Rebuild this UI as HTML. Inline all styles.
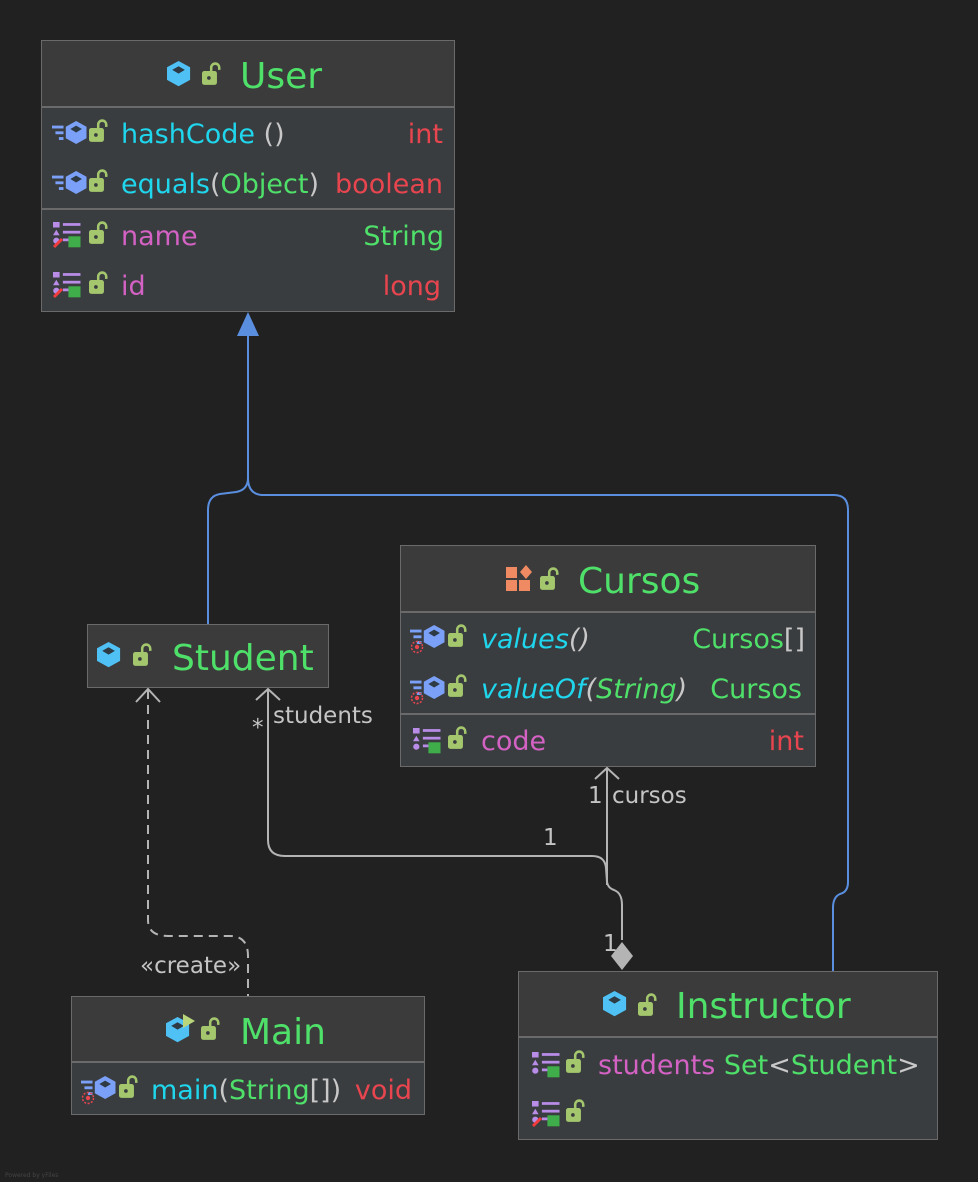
<!DOCTYPE html>
<html><head><meta charset="utf-8"><style>
html,body{margin:0;padding:0;background:#212121;}
svg{display:block}
text{font-family:"DejaVu Sans","Liberation Sans",sans-serif;}
.t{font-size:36px;fill:#4fe06a}
.r{font-size:27px}
.g{fill:#4fe06a}.c{fill:#1fd6ec}.p{fill:#d462c4}.red{fill:#e8454f}.w{fill:#c8c8c8}
.l{font-size:23px;fill:#c4c4c4}
</style></head><body>
<svg width="978" height="1182" viewBox="0 0 978 1182" xmlns="http://www.w3.org/2000/svg">
<defs>
<g id="cube0"><polygon points="11,0 22,6 22,18 11,24 0,18 0,6" fill="#4fc1f5"/><polygon points="11,5 17,8.5 11,12 5,8.5" fill="#2e3a44"/></g>
<g id="cube"><use href="#cube0" transform="scale(1.05)"/></g>
<g id="lock0"><rect x="0" y="7" width="13" height="12" rx="2" fill="#a4c76e"/><path d="M8 8 V4 a3.5 3.5 0 0 1 7 0 V6" stroke="#a4c76e" stroke-width="2.2" fill="none"/><circle cx="6" cy="13" r="1.6" fill="#3a3d40"/></g>
<g id="lock"><use href="#lock0" transform="translate(-1,-2) scale(1.15)"/></g>
<g id="meth0"><rect x="0" y="4" width="10" height="2.5" fill="#7aa0f7"/><rect x="3" y="9" width="7" height="2.5" fill="#7aa0f7"/><rect x="6" y="14" width="4" height="2.5" fill="#7aa0f7"/><polygon points="21,0 30,5 30,15 21,20 12,15 12,5" fill="#7aa0f7"/><polygon points="21,4 26,7 21,10 16,7" fill="#2e3a44"/></g>
<g id="meth"><use href="#meth0" transform="translate(0,-2) scale(1.15)"/></g>
<g id="smeth"><use href="#meth"/><circle cx="7" cy="20" r="5.5" fill="none" stroke="#e8454f" stroke-width="1.5" stroke-dasharray="2 1.5"/><circle cx="7" cy="20" r="2.2" fill="#e8454f"/></g>
<g id="fld0"><rect x="0" y="0" width="6" height="5" fill="#b98ce8"/><rect x="9" y="1" width="16" height="2.5" fill="#b98ce8"/><polygon points="3,7 6,12 0,12" fill="#b98ce8"/><rect x="9" y="8" width="16" height="2.5" fill="#b98ce8"/><circle cx="3" cy="17" r="2.8" fill="#b98ce8"/><rect x="9" y="15" width="8" height="2.5" fill="#b98ce8"/><rect x="14" y="13" width="11" height="10" fill="#3fae4a"/></g>
<g id="fld"><use href="#fld0" transform="scale(1.1)"/></g>
<g id="fldw"><use href="#fld"/><path d="M1 25 L9 17" stroke="#f03c3c" stroke-width="3"/></g>
</defs>

<!-- connectors -->
<g fill="none" stroke="#5a8fe0" stroke-width="2">
<path d="M248 336 V478 Q248 490 236 492 L220 494 Q208 496 208 510 V624"/>
<path d="M248 478 Q248 494 262 495 H834 Q848 495 848 510 V882 Q848 892 840 894 Q833 897 833 908 V971"/>
</g>
<polygon points="248,312 237,336 259,336" fill="#5a8fe0"/>
<g fill="none" stroke="#b4b4b4" stroke-width="2">
<path d="M268 690 V840 Q268 856 285 856 H592 Q605 856 606 868 L607 882 Q608 888 614 890 Q622 893 622 905 V940"/>
<path d="M607 768 V885"/>
<path d="M256 700 L268 689 L280 700"/>
<path d="M595 779 L607 768 L619 779"/>
</g>
<polygon points="622,942 633,956 622,970 611,956" fill="#b4b4b4"/>
<g fill="none" stroke="#b4b4b4" stroke-width="2" stroke-dasharray="9 6">
<path d="M148 690 V920 Q148 936 168 936 H230 Q248 936 248 956 V996"/>
</g>
<path d="M136 702 L148 689 L160 702" fill="none" stroke="#b4b4b4" stroke-width="2"/>
<text x="252" y="735" class="l">*</text>
<text x="273" y="723" class="l">students</text>
<text x="588" y="803" class="l">1</text>
<text x="612" y="803" class="l">cursos</text>
<text x="543" y="845" class="l">1</text>
<text x="603" y="951" class="l">1</text>
<text x="140" y="973" class="l">«create»</text>

<!-- User -->
<rect x="41.5" y="40.5" width="413" height="271" fill="#3a3d40" stroke="#6a6a6a"/>
<rect x="42" y="41" width="412" height="65" fill="#3b3b3b"/>
<line x1="42" y1="107" x2="454" y2="107" stroke="#6a6a6a" stroke-width="2"/>
<line x1="42" y1="209" x2="454" y2="209" stroke="#6a6a6a" stroke-width="2"/>
<use href="#cube" x="167" y="61"/><use href="#lock" x="203" y="65"/>
<text x="240" y="88" class="t">User</text>
<use href="#meth" x="52" y="123"/><use href="#lock" x="90" y="122"/>
<text x="121" y="143" class="r"><tspan class="c">hashCode</tspan><tspan class="w"> ()</tspan></text>
<text x="443" y="143" class="r red" text-anchor="end">int</text>
<use href="#meth" x="52" y="173"/><use href="#lock" x="90" y="172"/>
<text x="121" y="193" class="r"><tspan class="c">equals</tspan><tspan class="w">(</tspan><tspan class="g">Object</tspan><tspan class="w">)</tspan></text>
<text x="443" y="193" class="r red" text-anchor="end">boolean</text>
<use href="#fldw" x="53" y="222"/><use href="#lock" x="90" y="224"/>
<text x="121" y="245" class="r p">name</text>
<text x="444" y="245" class="r g" text-anchor="end">String</text>
<use href="#fldw" x="53" y="272"/><use href="#lock" x="90" y="274"/>
<text x="121" y="295" class="r p">id</text>
<text x="441" y="295" class="r red" text-anchor="end">long</text>

<!-- Student -->
<rect x="87.5" y="624.5" width="241" height="63" fill="#3b3b3b" stroke="#6a6a6a"/>
<use href="#cube" x="97" y="642"/><use href="#lock" x="134" y="646"/>
<text x="172" y="670" class="t">Student</text>

<!-- Cursos -->
<rect x="400.5" y="545.5" width="415" height="221" fill="#3a3d40" stroke="#6a6a6a"/>
<rect x="401" y="546" width="414" height="65" fill="#3b3b3b"/>
<line x1="401" y1="612" x2="815" y2="612" stroke="#6a6a6a" stroke-width="2"/>
<line x1="401" y1="714" x2="815" y2="714" stroke="#6a6a6a" stroke-width="2"/>
<g fill="#f08a62"><rect x="506" y="567" width="11" height="11"/><polygon points="526,565 532,572 526,579 520,572"/><rect x="506" y="580" width="11" height="11"/><rect x="519" y="580" width="11" height="11"/></g>
<use href="#lock" x="541" y="570"/>
<text x="578" y="593" class="t">Cursos</text>
<use href="#smeth" x="410" y="627"/><use href="#lock" x="449" y="627"/>
<text x="481" y="648" class="r" font-style="italic"><tspan class="c">values</tspan><tspan class="w">()</tspan></text>
<text x="805" y="648" class="r" text-anchor="end"><tspan class="g">Cursos</tspan><tspan class="w">[]</tspan></text>
<use href="#smeth" x="410" y="678"/><use href="#lock" x="449" y="677"/>
<text x="481" y="698" class="r" font-style="italic"><tspan class="c">valueOf</tspan><tspan class="w">(</tspan><tspan class="g">String</tspan><tspan class="w">)</tspan></text>
<text x="802" y="698" class="r g" text-anchor="end">Cursos</text>
<use href="#fld" x="413" y="728"/><use href="#lock" x="449" y="729"/>
<text x="481" y="750" class="r p">code</text>
<text x="804" y="750" class="r red" text-anchor="end">int</text>

<!-- Main -->
<rect x="71.5" y="996.5" width="353" height="118" fill="#3a3d40" stroke="#6a6a6a"/>
<rect x="72" y="997" width="352" height="64" fill="#3b3b3b"/>
<line x1="72" y1="1062" x2="424" y2="1062" stroke="#6a6a6a" stroke-width="2"/>
<use href="#cube" x="166" y="1017"/><polygon points="183,1014 195,1021 183,1028" fill="#b9d67a"/><use href="#lock" x="202" y="1020"/>
<text x="240" y="1044" class="t">Main</text>
<use href="#smeth" x="81" y="1078"/><use href="#lock" x="120" y="1078"/>
<text x="151" y="1099" class="r"><tspan class="c">main</tspan><tspan class="w">(</tspan><tspan class="g">String</tspan><tspan class="w">[])</tspan></text>
<text x="412" y="1099" class="r red" text-anchor="end">void</text>

<!-- Instructor -->
<rect x="518.5" y="971.5" width="419" height="168" fill="#3a3d40" stroke="#6a6a6a"/>
<rect x="519" y="972" width="418" height="64" fill="#3b3b3b"/>
<line x1="519" y1="1037" x2="937" y2="1037" stroke="#6a6a6a" stroke-width="2"/>
<use href="#cube" x="603" y="991"/><use href="#lock" x="639" y="996"/>
<text x="676" y="1018" class="t">Instructor</text>
<use href="#fld" x="532" y="1052"/><use href="#lock" x="567" y="1053"/>
<text x="598" y="1074" class="r"><tspan class="p">students</tspan><tspan class="g"> Set</tspan><tspan class="w">&lt;</tspan><tspan class="g">Student</tspan><tspan class="w">&gt;</tspan></text>
<use href="#fldw" x="532" y="1101"/><use href="#lock" x="567" y="1102"/>

<text x="5" y="1177" font-size="6" fill="#444">Powered by yFiles</text>
</svg>
</body></html>
